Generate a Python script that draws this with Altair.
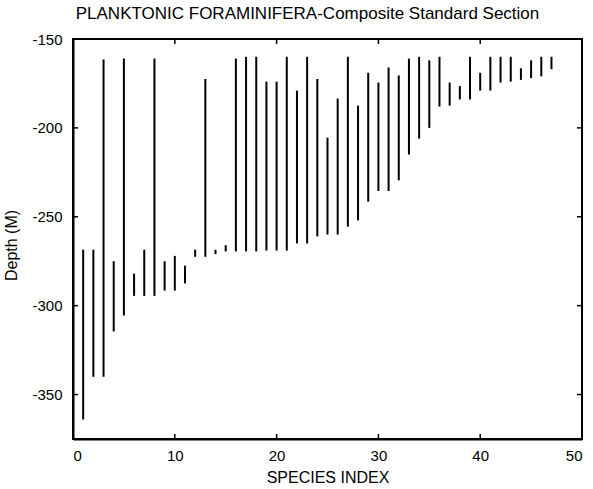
import altair as alt
import pandas as pd

# Stratigraphic ranges (top / base depth, metres) of each planktonic foraminifera species
species_index = list(range(1, 48))
top_depth = [
    -268.5, -268.5, -161.5, -275.0, -161.0, -282.0, -268.5, -161.0, -275.0, -272.0,
    -277.5, -268.5, -172.5, -268.5, -266.0, -161.0, -160.0, -160.0, -174.0, -174.0,
    -160.0, -179.0, -160.0, -172.5, -205.5, -183.5, -160.0, -187.5, -169.0, -174.5,
    -166.0, -170.5, -161.0, -160.0, -162.0, -160.0, -174.5, -176.5, -160.0, -169.0,
    -160.0, -160.0, -160.0, -166.5, -162.0, -160.0, -160.0,
]
base_depth = [
    -364.0, -340.0, -340.0, -314.5, -305.5, -294.5, -294.5, -294.5, -291.5, -291.5,
    -287.5, -272.5, -272.5, -271.0, -269.5, -269.5, -269.5, -269.5, -269.0, -269.0,
    -269.0, -265.0, -265.0, -261.0, -260.0, -260.0, -255.5, -252.0, -241.5, -235.5,
    -235.5, -229.5, -215.0, -206.0, -200.0, -188.0, -187.5, -184.0, -184.0, -179.0,
    -179.0, -174.5, -174.0, -173.0, -172.0, -171.0, -167.0,
]

x_ticks = [0, 10, 20, 30, 40, 50]
y_ticks = [-350, -300, -250, -200, -150]

W, H = 509, 400
FONT = "Liberation Sans"

ranges = pd.DataFrame({"species": species_index, "top": top_depth, "base": base_depth})
xt = pd.DataFrame({"v": x_ticks})
yt = pd.DataFrame({"v": y_ticks})

x_scale = alt.Scale(domain=[0, 50], nice=False, zero=False)
y_scale = alt.Scale(domain=[-375, -150], nice=False, zero=False)

# plain hyphen-minus in the tick labels
plain_label = "'' + datum.value"

bars = alt.Chart(ranges).mark_rule(color="black", strokeWidth=2).encode(
    x=alt.X("species:Q", scale=x_scale, title="SPECIES INDEX",
            axis=alt.Axis(values=x_ticks, labelExpr=plain_label, tickSize=0,
                          labelPadding=9, titlePadding=6)),
    y=alt.Y("top:Q", scale=y_scale, title="Depth (M)",
            axis=alt.Axis(values=y_ticks, labelExpr=plain_label, tickSize=0,
                          labelPadding=11, titlePadding=12, titleY=206)),
    y2="base:Q",
)

# inward-pointing tick marks on all four sides of the box
tick_style = dict(color="black", strokeWidth=1.5)
bottom_ticks = alt.Chart(xt).mark_rule(**tick_style).encode(
    x=alt.X("v:Q", scale=x_scale), y=alt.value(H), y2=alt.value(H - 5))
top_ticks = alt.Chart(xt).mark_rule(**tick_style).encode(
    x=alt.X("v:Q", scale=x_scale), y=alt.value(0), y2=alt.value(5))
left_ticks = alt.Chart(yt).mark_rule(**tick_style).encode(
    y=alt.Y("v:Q", scale=y_scale), x=alt.value(0), x2=alt.value(5))
right_ticks = alt.Chart(yt).mark_rule(**tick_style).encode(
    y=alt.Y("v:Q", scale=y_scale), x=alt.value(W), x2=alt.value(W - 5))

chart = (
    alt.layer(bars, bottom_ticks, top_ticks, left_ticks, right_ticks)
    .properties(
        width=W,
        height=H,
        title=alt.TitleParams(
            "PLANKTONIC FORAMINIFERA-Composite Standard Section",
            font=FONT, fontSize=17, fontWeight="normal", color="black",
            anchor="middle", frame="group", offset=9, dx=-20,
        ),
        padding={"left": 3, "top": 5, "right": 9, "bottom": 5},
        background="white",
    )
    .configure_view(stroke="black", strokeWidth=2)
    .configure_axis(
        domain=True, domainColor="black", domainWidth=2, grid=False,
        labelFont=FONT, labelFontSize=15, labelColor="black",
        titleFont=FONT, titleFontSize=16, titleFontWeight="normal", titleColor="black",
    )
)

chart.save("out.html", embed_options={"renderer": "svg", "actions": False})
